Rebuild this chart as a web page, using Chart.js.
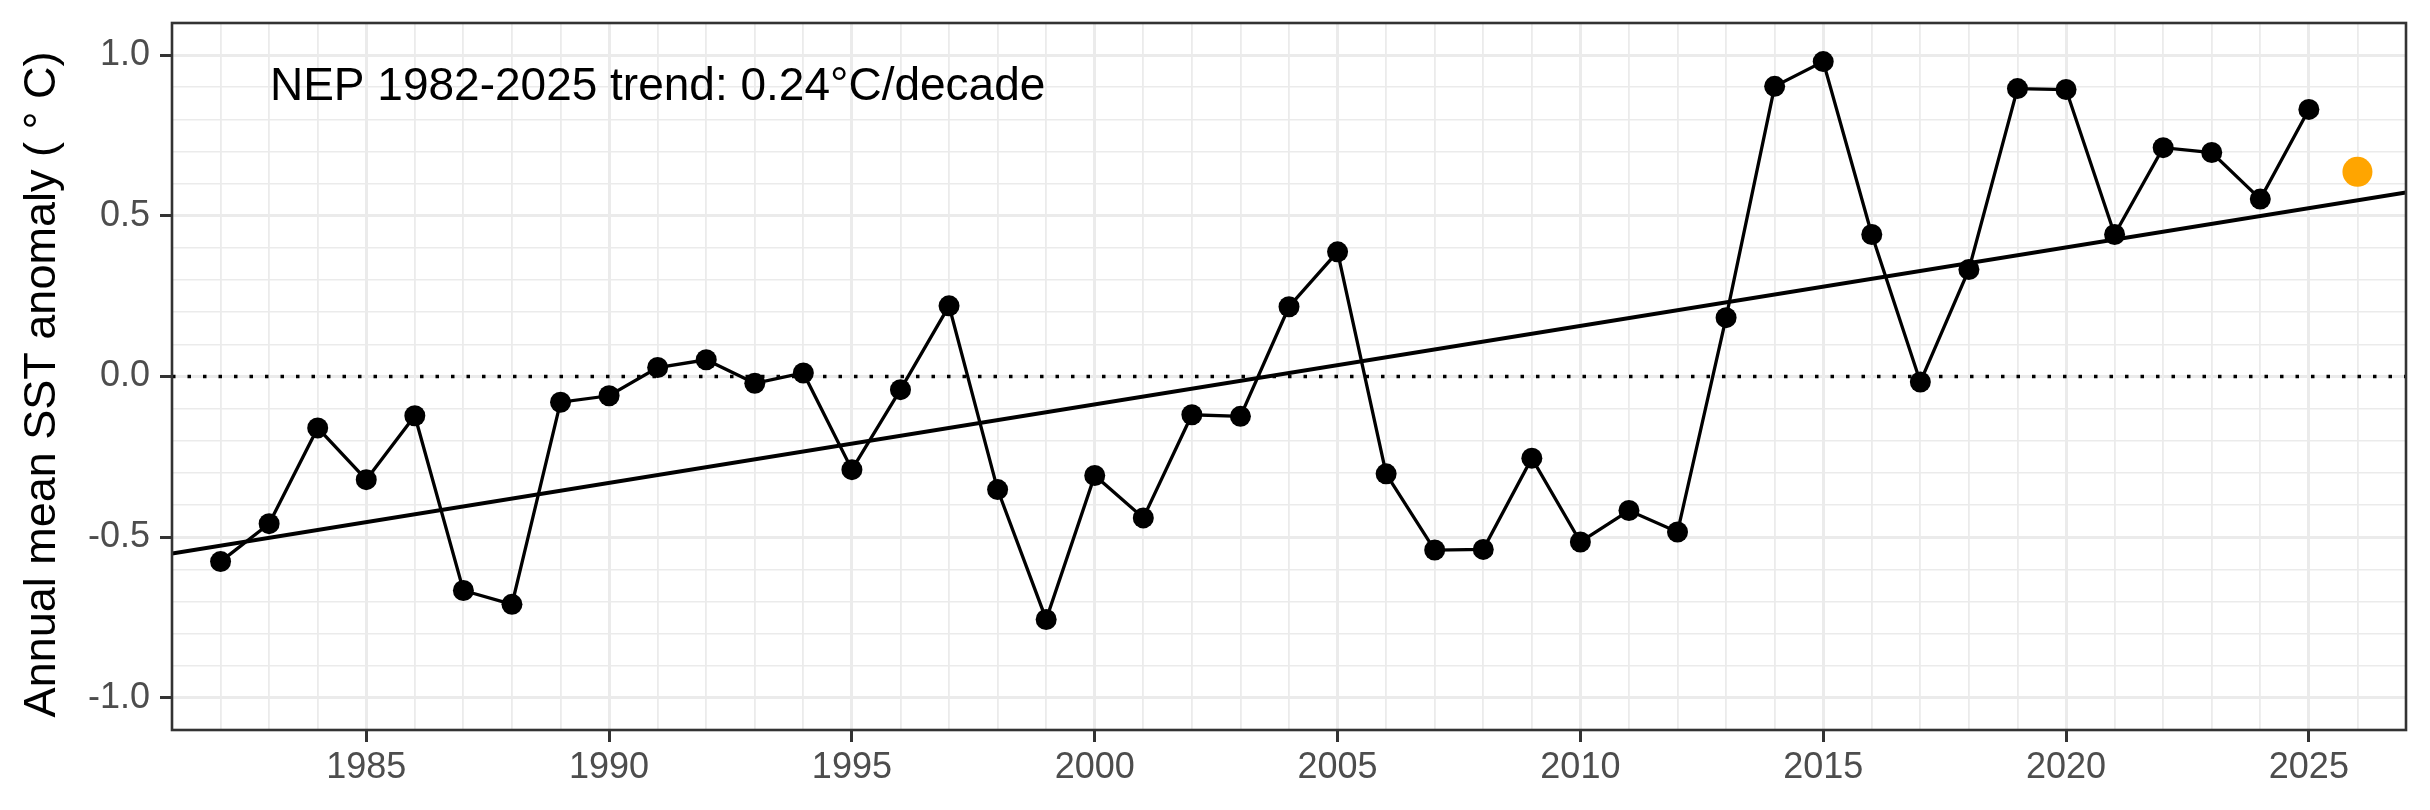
<!DOCTYPE html>
<html>
<head>
<meta charset="utf-8">
<script src="https://cdn.jsdelivr.net/npm/chart.js@4.4.1/dist/chart.umd.min.js"></script>
<style>
  html, body { margin: 0; padding: 0; background: #fff; }
  canvas { display: block; }
</style>
</head>
<body>
<canvas id="chart" width="2430" height="810"></canvas>
<script>
// annual mean SST anomaly, NEP
const years = [
  1982, 1983, 1984, 1985, 1986, 1987, 1988, 1989, 1990, 1991, 1992,
  1993, 1994, 1995, 1996, 1997, 1998, 1999, 2000, 2001, 2002, 2003,
  2004, 2005, 2006, 2007, 2008, 2009, 2010, 2011, 2012, 2013, 2014,
  2015, 2016, 2017, 2018, 2019, 2020, 2021, 2022, 2023, 2024, 2025
];
const anomaly = [
  -0.576, -0.458, -0.160, -0.321, -0.122, -0.666, -0.709, -0.080, -0.060, 0.028, 0.052,
  -0.021, 0.011, -0.290, -0.041, 0.220, -0.352, -0.756, -0.308, -0.440, -0.119, -0.124,
  0.217, 0.388, -0.303, -0.540, -0.538, -0.254, -0.515, -0.417, -0.484, 0.183, 0.903,
  0.980, 0.442, -0.017, 0.333, 0.896, 0.893, 0.442, 0.712, 0.697, 0.552, 0.831
];

// current (partial) year, drawn in orange
const latestYears = [2026];
const latestAnomaly = [0.637];

// linear trend end points
const trendYears = [1981, 2027];
const trendValues = [-0.551, 0.573];

const zeroYears = [1981, 2027];
const zeroValues = [0, 0];

const xMajorTicks = [1985, 1990, 1995, 2000, 2005, 2010, 2015, 2020, 2025];
const yMajorTicks = [-1.0, -0.5, 0.0, 0.5, 1.0];

const annotationText = "NEP 1982-2025 trend: 0.24\u00B0C/decade";
const annotationX = 1991;
const annotationY = 0.9;
const yTitle = "Annual mean SST anomaly ( \u00B0 C)";

const FONT = '"Liberation Sans", Arial, sans-serif';

const toPoints = (xs, ys) => xs.map((x, i) => ({ x: x, y: ys[i] }));
const isMajorX = (v) => xMajorTicks.includes(Math.round(v)) && Math.abs(v - Math.round(v)) < 1e-6;
const isMajorY = (v) => yMajorTicks.some((t) => Math.abs(t - v) < 1e-6);

// annotation, y title and panel border
const panelBox = {
  id: "panelBox",
  afterDraw(chart) {
    const { ctx, chartArea: a, scales } = chart;
    ctx.save();
    ctx.fillStyle = "#000000";
    ctx.textAlign = "center";
    ctx.textBaseline = "middle";

    ctx.font = "46px " + FONT;
    ctx.fillText(annotationText,
      scales.x.getPixelForValue(annotationX),
      scales.y.getPixelForValue(annotationY));

    ctx.save();
    ctx.translate(43, (a.top + a.bottom) / 2 + 8);
    ctx.rotate(-Math.PI / 2);
    ctx.font = "45px " + FONT;
    ctx.fillText(yTitle, 0, 0);
    ctx.restore();

    ctx.strokeStyle = "#333333";
    ctx.lineWidth = 2.6;
    ctx.strokeRect(a.left, a.top, a.right - a.left, a.bottom - a.top);
    ctx.restore();
  }
};

new Chart(document.getElementById("chart"), {
  type: "line",
  data: {
    datasets: [
      {
        data: toPoints(latestYears, latestAnomaly),
        showLine: false,
        pointRadius: 15,
        pointBorderWidth: 0,
        pointBackgroundColor: "#FFA500",
        backgroundColor: "#FFA500"
      },
      {
        data: toPoints(years, anomaly),
        borderColor: "#000000",
        borderWidth: 3.3,
        tension: 0,
        pointRadius: 10.5,
        pointBorderWidth: 0,
        pointBackgroundColor: "#000000"
      },
      {
        data: toPoints(trendYears, trendValues),
        borderColor: "#000000",
        borderWidth: 4,
        pointRadius: 0
      },
      {
        data: toPoints(zeroYears, zeroValues),
        borderColor: "#000000",
        borderWidth: 3.5,
        borderDash: [3.5, 12],
        pointRadius: 0
      }
    ]
  },
  options: {
    responsive: false,
    devicePixelRatio: 1,
    animation: false,
    events: [],
    layout: { padding: { top: 23, right: 24, bottom: 0, left: 0 } },
    plugins: {
      legend: { display: false },
      tooltip: { enabled: false }
    },
    scales: {
      x: {
        type: "linear",
        min: 1981,
        max: 2027,
        afterFit: (scale) => {
          scale.height = 80;
          scale.paddingLeft = 0;
          scale.paddingRight = 0;
        },
        border: { display: false },
        grid: {
          color: "#EBEBEB",
          lineWidth: (c) => (isMajorX(c.tick.value) ? 3 : 1.8),
          tickColor: (c) => (isMajorX(c.tick.value) ? "#333333" : "rgba(0,0,0,0)"),
          tickWidth: 3,
          tickLength: 12
        },
        ticks: {
          stepSize: 1,
          autoSkip: false,
          maxRotation: 0,
          padding: 4,
          color: "#4D4D4D",
          font: { family: FONT, size: 36 },
          callback: (v) => (isMajorX(v) ? String(Math.round(v)) : "")
        }
      },
      y: {
        min: -1.1,
        max: 1.1,
        afterFit: (scale) => {
          scale.width = 172;
          scale.paddingTop = 0;
          scale.paddingBottom = 0;
        },
        border: { display: false },
        grid: {
          color: "#EBEBEB",
          lineWidth: (c) => (isMajorY(c.tick.value) ? 3 : 1.6),
          tickColor: (c) => (isMajorY(c.tick.value) ? "#333333" : "rgba(0,0,0,0)"),
          tickWidth: 3,
          tickLength: 12
        },
        ticks: {
          stepSize: 0.1,
          autoSkip: false,
          padding: 10,
          color: "#4D4D4D",
          font: { family: FONT, size: 36 },
          callback: (v) => {
            if (!isMajorY(v)) return "";
            return Math.abs(v) < 1e-6 ? "0.0" : v.toFixed(1);
          }
        }
      }
    }
  },
  plugins: [panelBox]
});
</script>
</body>
</html>
